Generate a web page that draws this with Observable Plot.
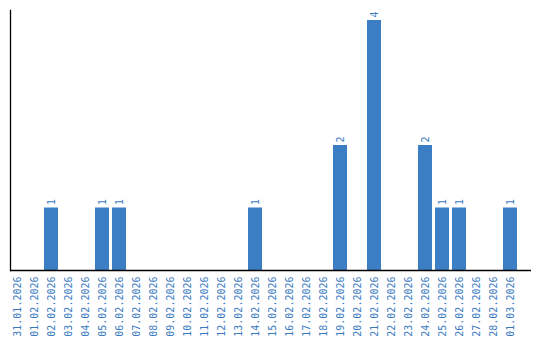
<!DOCTYPE html>
<html>
<head>
<meta charset="utf-8">
<script src="https://cdn.jsdelivr.net/npm/d3@7"></script>
<script src="https://cdn.jsdelivr.net/npm/@observablehq/plot@0.6"></script>
<style>
  html, body { margin: 0; padding: 0; background: #fff; }
</style>
</head>
<body>
<div id="chart"></div>
<script>
const dates = [
  "31.01.2026", "01.02.2026", "02.02.2026", "03.02.2026", "04.02.2026",
  "05.02.2026", "06.02.2026", "07.02.2026", "08.02.2026", "09.02.2026",
  "10.02.2026", "11.02.2026", "12.02.2026", "13.02.2026", "14.02.2026",
  "15.02.2026", "16.02.2026", "17.02.2026", "18.02.2026", "19.02.2026",
  "20.02.2026", "21.02.2026", "22.02.2026", "23.02.2026", "24.02.2026",
  "25.02.2026", "26.02.2026", "27.02.2026", "28.02.2026", "01.03.2026"
];
const counts = [
  0, 0, 1, 0, 0,
  1, 1, 0, 0, 0,
  0, 0, 0, 0, 1,
  0, 0, 0, 0, 2,
  0, 4, 0, 0, 2,
  1, 1, 0, 0, 1
];

const data = dates.map((d, i) => ({date: d, count: counts[i]}));
const barColor = "#3b7ec3";
const textColor = "#3a7abf";

const chart = Plot.plot({
  width: 540,
  height: 340,
  marginTop: 10,
  marginBottom: 70,
  marginLeft: 10,
  marginRight: 9,
  style: {fontFamily: "DejaVu Sans Mono", fontSize: "10px", background: "#fff"},
  x: {type: "band", domain: dates, range: [8.5, 518.5], paddingInner: 0.18, paddingOuter: 0.09},
  y: {domain: [0, 4.16], axis: null},
  marks: [
    Plot.barY(data.filter(d => d.count > 0), {x: "date", y: "count", fill: barColor}),
    Plot.text(data.filter(d => d.count > 0), {
      x: "date", y: "count", text: d => String(d.count),
      rotate: -90, textAnchor: "start", dy: -3, fill: textColor, fontSize: 10
    }),
    Plot.axisX({tickRotate: -90, tickSize: 0, tickPadding: 6, fill: textColor, fontSize: 10, label: null}),
    Plot.ruleY([0], {stroke: "#000", strokeWidth: 1.3}),
    Plot.frame({anchor: "left", stroke: "#000", strokeWidth: 1.3})
  ]
});
document.getElementById("chart").appendChild(chart);
</script>
</body>
</html>
